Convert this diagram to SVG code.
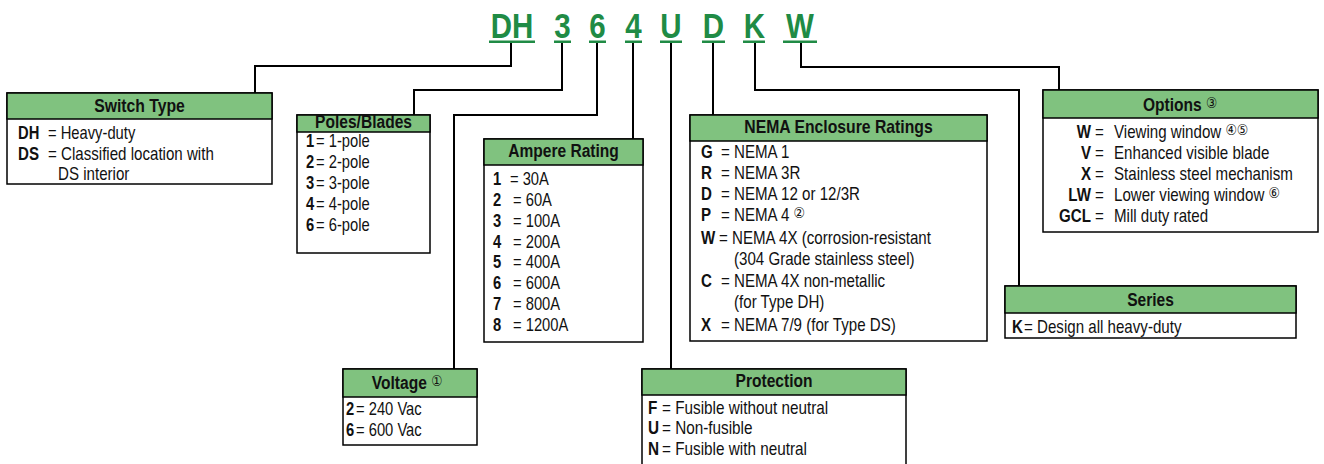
<svg xmlns="http://www.w3.org/2000/svg" width="1324" height="464" viewBox="0 0 1324 464">
<style>
text{font-family:"Liberation Sans",Arial,sans-serif;fill:#111;font-size:18px}
.code{font-size:36px;font-weight:bold;fill:#208b45;text-anchor:middle}
.ttl{font-size:19px;font-weight:bold;text-anchor:middle}
.k{font-weight:bold}
.ke{font-weight:bold;text-anchor:end}
.c{font-family:"DejaVu Sans",sans-serif;font-size:15px;font-weight:normal}
.box{fill:#fff;stroke:#000;stroke-width:1.5}
.hdr{fill:#80c27f;stroke:#000;stroke-width:1.5}
.ul{fill:#208b45}
.con path{fill:none;stroke:#000;stroke-width:2}
</style>
<g id="code">
<text class="code" transform="matrix(.82 0 0 1 512 37.5)">DH</text>
<text class="code" transform="matrix(.82 0 0 1 562.5 37.5)">3</text>
<text class="code" transform="matrix(.82 0 0 1 597.5 37.5)">6</text>
<text class="code" transform="matrix(.82 0 0 1 633.5 37.5)">4</text>
<text class="code" transform="matrix(.82 0 0 1 671 37.5)">U</text>
<text class="code" transform="matrix(.82 0 0 1 713.5 37.5)">D</text>
<text class="code" transform="matrix(.82 0 0 1 754.5 37.5)">K</text>
<text class="code" transform="matrix(.82 0 0 1 800 37.5)">W</text>
<rect class="ul" x="489" y="40.5" width="46" height="2.5"/>
<rect class="ul" x="554" y="40.5" width="17" height="2.5"/>
<rect class="ul" x="589" y="40.5" width="17" height="2.5"/>
<rect class="ul" x="625" y="40.5" width="17" height="2.5"/>
<rect class="ul" x="660" y="40.5" width="22" height="2.5"/>
<rect class="ul" x="702" y="40.5" width="23" height="2.5"/>
<rect class="ul" x="743" y="40.5" width="22" height="2.5"/>
<rect class="ul" x="783" y="40.5" width="34" height="2.5"/>
</g>
<g id="connectors" class="con">
<path d="M511 43V66H255V93"/>
<path d="M562 43V90H414V115"/>
<path d="M597 43V115H454V369"/>
<path d="M633 43V139"/>
<path d="M671 43V369"/>
<path d="M713 43V115"/>
<path d="M755 43V90H1019V286"/>
<path d="M801 43V67H1059V90"/>
</g>
<g id="switch-type">
<rect class="box" x="7" y="93" width="265" height="91"/>
<rect class="hdr" x="7" y="93" width="265" height="26"/>
<text class="ttl" transform="matrix(.83 0 0 1 139.5 112)">Switch Type</text>
<text transform="matrix(.82 0 0 1 18 139)"><tspan class="k" x="0">DH</tspan><tspan x="36.6">= Heavy-duty</tspan></text>
<text transform="matrix(.84 0 0 1 18 160)"><tspan class="k" x="0">DS</tspan><tspan x="35.7">= Classified location with</tspan></text>
<text transform="matrix(.84 0 0 1 58 180)">DS interior</text>
</g>
<g id="poles-blades">
<rect class="box" x="297" y="115" width="133" height="138"/>
<rect class="hdr" x="297" y="115" width="133" height="17"/>
<text class="ttl" transform="matrix(.82 0 0 1 363.5 128)">Poles/Blades</text>
<text transform="matrix(.82 0 0 1 306 147)"><tspan class="k" x="0">1</tspan><tspan x="12.2">= 1-pole</tspan></text>
<text transform="matrix(.82 0 0 1 306 168)"><tspan class="k" x="0">2</tspan><tspan x="12.2">= 2-pole</tspan></text>
<text transform="matrix(.82 0 0 1 306 189)"><tspan class="k" x="0">3</tspan><tspan x="12.2">= 3-pole</tspan></text>
<text transform="matrix(.82 0 0 1 306 210)"><tspan class="k" x="0">4</tspan><tspan x="12.2">= 4-pole</tspan></text>
<text transform="matrix(.82 0 0 1 306 231)"><tspan class="k" x="0">6</tspan><tspan x="12.2">= 6-pole</tspan></text>
</g>
<g id="voltage">
<rect class="box" x="343" y="369" width="134" height="76"/>
<rect class="hdr" x="343" y="369" width="134" height="28"/>
<text class="ttl" transform="matrix(.82 0 0 1 407 389)">Voltage <tspan class="c" dy="-3">①</tspan></text>
<text transform="matrix(.82 0 0 1 346 415)"><tspan class="k" x="0">2</tspan><tspan x="12.2">= 240 Vac</tspan></text>
<text transform="matrix(.82 0 0 1 346 436)"><tspan class="k" x="0">6</tspan><tspan x="12.2">= 600 Vac</tspan></text>
</g>
<g id="ampere-rating">
<rect class="box" x="484" y="139" width="159" height="203"/>
<rect class="hdr" x="484" y="139" width="159" height="26"/>
<text class="ttl" transform="matrix(.82 0 0 1 563.5 157)">Ampere Rating</text>
<text transform="matrix(.82 0 0 1 493 185)"><tspan class="k" x="0">1</tspan><tspan x="20.7">= 30A</tspan></text>
<text transform="matrix(.82 0 0 1 493 206)"><tspan class="k" x="0">2</tspan><tspan x="24.4">= 60A</tspan></text>
<text transform="matrix(.82 0 0 1 493 227)"><tspan class="k" x="0">3</tspan><tspan x="24.4">= 100A</tspan></text>
<text transform="matrix(.82 0 0 1 493 248)"><tspan class="k" x="0">4</tspan><tspan x="24.4">= 200A</tspan></text>
<text transform="matrix(.82 0 0 1 493 268)"><tspan class="k" x="0">5</tspan><tspan x="24.4">= 400A</tspan></text>
<text transform="matrix(.82 0 0 1 493 289)"><tspan class="k" x="0">6</tspan><tspan x="24.4">= 600A</tspan></text>
<text transform="matrix(.82 0 0 1 493 310)"><tspan class="k" x="0">7</tspan><tspan x="24.4">= 800A</tspan></text>
<text transform="matrix(.82 0 0 1 493 331)"><tspan class="k" x="0">8</tspan><tspan x="24.4">= 1200A</tspan></text>
</g>
<g id="protection">
<rect class="box" x="642" y="369" width="264" height="110"/>
<rect class="hdr" x="642" y="369" width="264" height="26"/>
<text class="ttl" transform="matrix(.82 0 0 1 774 387)">Protection</text>
<text transform="matrix(.85 0 0 1 648 414)"><tspan class="k" x="0">F</tspan><tspan x="16.5">= Fusible without neutral</tspan></text>
<text transform="matrix(.85 0 0 1 648 434)"><tspan class="k" x="0">U</tspan><tspan x="16.5">= Non-fusible</tspan></text>
<text transform="matrix(.85 0 0 1 648 455)"><tspan class="k" x="0">N</tspan><tspan x="16.5">= Fusible with neutral</tspan></text>
</g>
<g id="nema-enclosure-ratings">
<rect class="box" x="690" y="115" width="297" height="226"/>
<rect class="hdr" x="690" y="115" width="297" height="26"/>
<text class="ttl" transform="matrix(.83 0 0 1 838.5 133)">NEMA Enclosure Ratings</text>
<text transform="matrix(.84 0 0 1 701 158)"><tspan class="k" x="0">G</tspan><tspan x="23.8">= NEMA 1</tspan></text>
<text transform="matrix(.84 0 0 1 701 179)"><tspan class="k" x="0">R</tspan><tspan x="23.8">= NEMA 3R</tspan></text>
<text transform="matrix(.84 0 0 1 701 200)"><tspan class="k" x="0">D</tspan><tspan x="23.8">= NEMA 12 or 12/3R</tspan></text>
<text transform="matrix(.84 0 0 1 701 221)"><tspan class="k" x="0">P</tspan><tspan x="23.8">= NEMA 4 </tspan><tspan class="c" dy="-3">②</tspan></text>
<text transform="matrix(.84 0 0 1 701 244)"><tspan class="k" x="0">W</tspan><tspan x="21.4">= NEMA 4X (corrosion-resistant</tspan></text>
<text transform="matrix(.84 0 0 1 734 265)">(304 Grade stainless steel)</text>
<text transform="matrix(.84 0 0 1 701 287)"><tspan class="k" x="0">C</tspan><tspan x="23.8">= NEMA 4X non-metallic</tspan></text>
<text transform="matrix(.84 0 0 1 734 308)">(for Type DH)</text>
<text transform="matrix(.84 0 0 1 701 331)"><tspan class="k" x="0">X</tspan><tspan x="23.8">= NEMA 7/9 (for Type DS)</tspan></text>
</g>
<g id="options">
<rect class="box" x="1043" y="90" width="275" height="142"/>
<rect class="hdr" x="1043" y="90" width="275" height="28"/>
<text class="ttl" transform="matrix(.82 0 0 1 1180 111)">Options <tspan class="c" dy="-3">③</tspan></text>
<text class="ke" transform="matrix(.84 0 0 1 1091 138)">W</text><text transform="matrix(.84 0 0 1 1095 138)">=</text><text transform="matrix(.84 0 0 1 1114 138)">Viewing window <tspan class="c" dy="-3">④⑤</tspan></text>
<text class="ke" transform="matrix(.84 0 0 1 1091 159)">V</text><text transform="matrix(.84 0 0 1 1095 159)">=</text><text transform="matrix(.84 0 0 1 1114 159)">Enhanced visible blade</text>
<text class="ke" transform="matrix(.84 0 0 1 1091 180)">X</text><text transform="matrix(.84 0 0 1 1095 180)">=</text><text transform="matrix(.84 0 0 1 1114 180)">Stainless steel mechanism</text>
<text class="ke" transform="matrix(.84 0 0 1 1091 201)">LW</text><text transform="matrix(.84 0 0 1 1095 201)">=</text><text transform="matrix(.84 0 0 1 1114 201)">Lower viewing window <tspan class="c" dy="-3">⑥</tspan></text>
<text class="ke" transform="matrix(.84 0 0 1 1091 222)">GCL</text><text transform="matrix(.84 0 0 1 1095 222)">=</text><text transform="matrix(.84 0 0 1 1114 222)">Mill duty rated</text>
</g>
<g id="series">
<rect class="box" x="1005" y="286" width="291" height="52"/>
<rect class="hdr" x="1005" y="286" width="291" height="27"/>
<text class="ttl" transform="matrix(.82 0 0 1 1150.5 306)">Series</text>
<text transform="matrix(.84 0 0 1 1012 333)"><tspan class="k" x="0">K</tspan><tspan x="14.3">= Design all heavy-duty</tspan></text>
</g>
</svg>
